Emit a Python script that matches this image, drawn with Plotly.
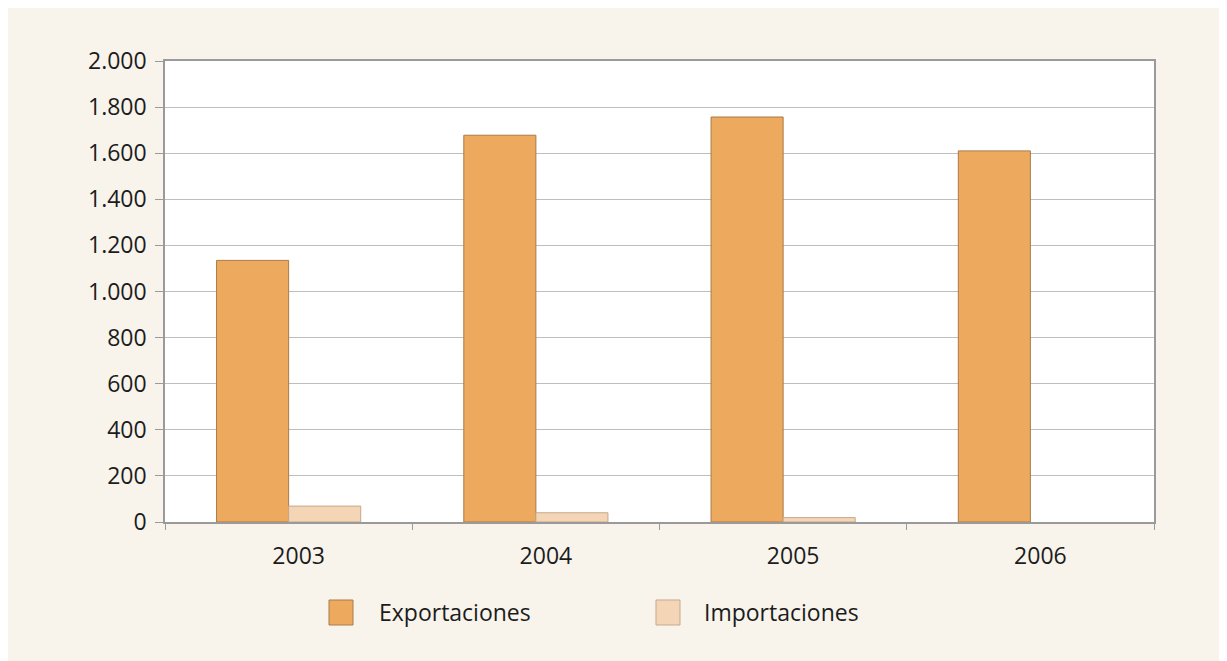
import plotly.graph_objects as go

years = ["2003", "2004", "2005", "2006"]
exportaciones = [1135, 1678, 1757, 1610]
importaciones = [69, 40, 19, 0]
series_names = ["Exportaciones", "Importaciones"]

# the page adds an 8px body margin, so the figure starts at (8, 8) in the window
OFF = 8
W, H = 1227, 661
L, T = 157, 53
pw, ph = 989, 461
R, B = W - L - pw, H - T - ph

beige = "#F8F4EC"
export_fill, export_line = "#EDA95D", "#A97B4A"
import_fill, import_line = "#F4D6B6", "#C5A78C"
text_color = "#1c1c1c"
font = "Open Sans"


def px_x(x):
    return (x - OFF - L) / pw


def px_y(y):
    return (H - B - (y - OFF)) / ph


fig = go.Figure()
fig.add_trace(go.Bar(
    x=years, y=exportaciones, name=series_names[0],
    marker=dict(color=export_fill, line=dict(color=export_line, width=1)),
))
fig.add_trace(go.Bar(
    x=years, y=importaciones, name=series_names[1],
    marker=dict(color=import_fill,
                line=dict(color=import_line, width=[1 if v else 0 for v in importaciones])),
))

# legend drawn by hand so the swatches are as large as in the original
legend_items = [
    (series_names[0], export_fill, export_line, 341, 377),
    (series_names[1], import_fill, import_line, 668, 702),
]
for name, fill, line, cx, tx in legend_items:
    fig.add_shape(type="rect", xref="paper", yref="paper",
                  x0=px_x(cx - 12), x1=px_x(cx + 12),
                  y0=px_y(625), y1=px_y(600),
                  fillcolor=fill, line=dict(color=line, width=1))
    fig.add_annotation(x=px_x(tx), y=px_y(612), xref="paper", yref="paper",
                       text=name, showarrow=False, xanchor="left", yanchor="middle",
                       font=dict(family=font, size=23, color=text_color))

fig.update_xaxes(
    showline=True, linecolor="#9A9A9A", linewidth=1.5, mirror=True,
    ticks="outside", tickson="boundaries", ticklen=6, tickcolor="#9A9A9A",
    ticklabelshift=10, ticklabelstandoff=13,
    tickfont=dict(family=font, size=23, color=text_color),
)
fig.update_yaxes(
    range=[0, 2000], dtick=200, tickformat=",d",
    showgrid=True, gridcolor="#BEBEBE", gridwidth=1,
    showline=True, linecolor="#9A9A9A", linewidth=1.5, mirror=True,
    ticks="outside", ticklen=8, tickcolor="#9A9A9A",
    ticklabelstandoff=4,
    zeroline=False,
    tickfont=dict(family=font, size=23, color=text_color),
)

fig.update_layout(
    width=W, height=H,
    margin=dict(l=L, r=R, t=T, b=B),
    barmode="group", bargap=0.417, bargroupgap=0,
    paper_bgcolor=beige, plot_bgcolor="white",
    separators=",.",
    showlegend=False,
)

fig.write_html("out.html")
